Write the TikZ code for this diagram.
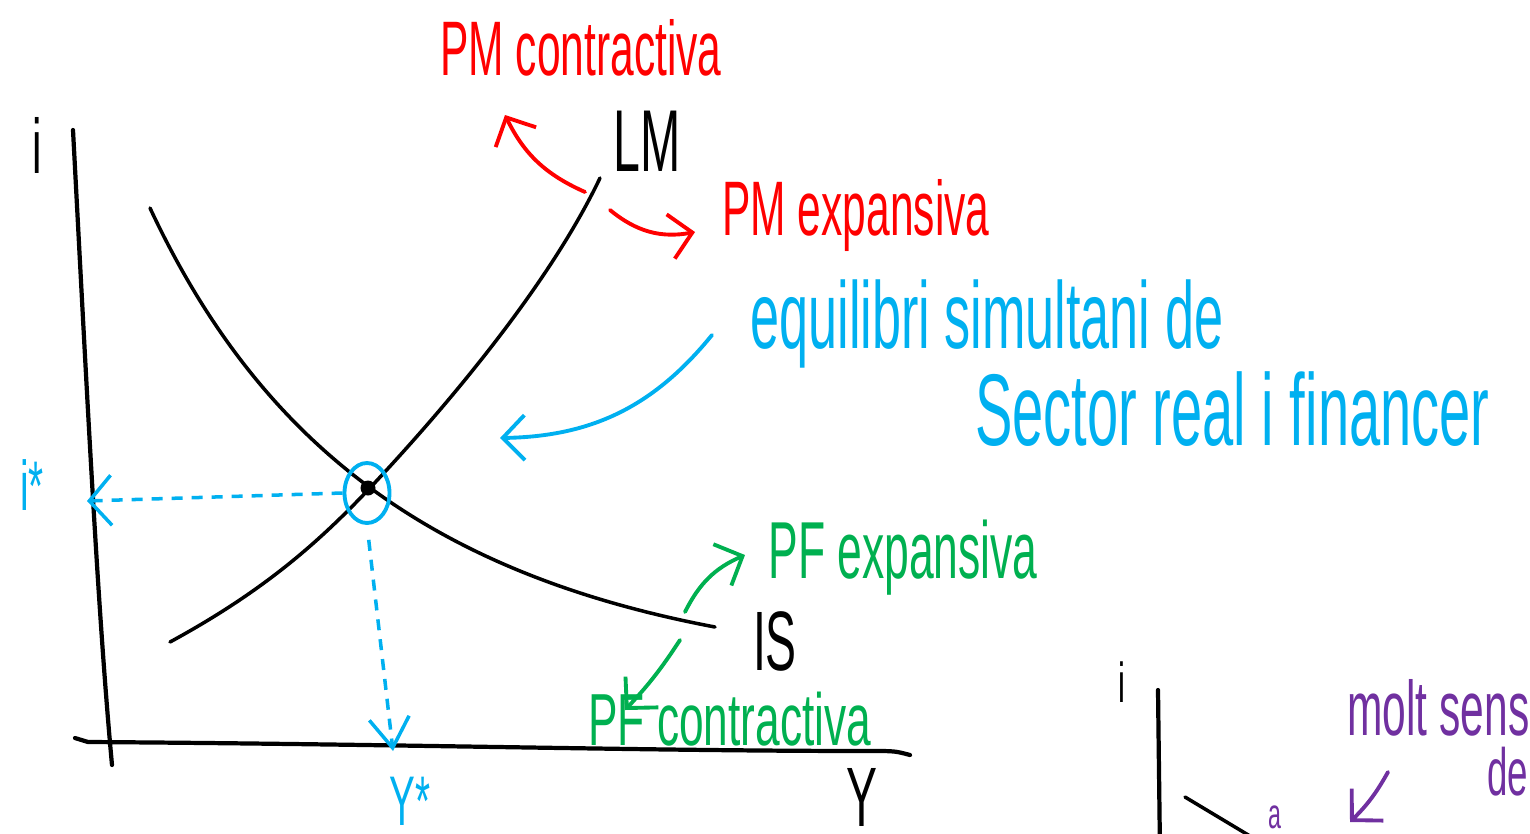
\documentclass[tikz,border=0pt]{standalone}
\usepackage{fontspec}
\setmainfont{Liberation Sans}
\usetikzlibrary{arrows.meta,shapes.geometric}
\definecolor{vermell}{RGB}{255,0,0}
\definecolor{blau}{RGB}{0,176,240}
\definecolor{verd}{RGB}{0,176,80}
\definecolor{lila}{RGB}{112,48,160}
\newcommand{\mida}[1]{\fontsize{#1}{#1}\selectfont}
\tikzset{
  corba/.style={line width=1pt, line cap=round},
  eix/.style={line width=1.2pt, line cap=round},
  fletxa/.style={line width=1.1pt, line cap=round, -{Straight Barb[length=2.2mm, width=4.5mm]}},
  guia/.style={blau, line width=1pt, dash pattern=on 1.1mm off 0.9mm},
  retol/.style={inner sep=0pt, xscale=0.55},
}

\begin{document}
\begin{tikzpicture}
        \useasboundingbox (0,0) rectangle (15.3,8.33);
        \clip (0,0) rectangle (15.3,8.33);

        % Eixos
        \draw[eix] (0.73,7.03) .. controls (0.88,4.2) and (0.98,2.2) .. (1.12,0.68);
        \draw[eix] (0.75,0.95) -- (0.88,0.91) .. controls (4,0.89) and (6.5,0.82) .. (8.7,0.82) .. controls (8.95,0.82) .. (9.1,0.78);
        \node[retol, font=\mida{22}] (ieix) at (0.37,6.88) {i};
        \node[retol, font=\mida{24}] (yeix) at (8.62,0.36) {Y};

        % Corbes IS i LM
        \draw[corba] (1.50,6.25) .. controls (2.6,3.9) and (4.3,2.6) .. (7.15,2.06);
        \draw[corba] (1.70,1.91) .. controls (2.6,2.4) and (3.15,2.87) .. (3.68,3.43)
                     .. controls (4.5,4.3) and (5.5,5.5) .. (6.00,6.55);
        \node[retol, font=\mida{25}] (lm) at (6.47,6.92) {LM};
        \node[retol, font=\mida{24}] (is) at (7.75,1.92) {IS};

        % Equilibri
        \coordinate (eq) at (3.68,3.45);
        \fill (eq) circle (0.075);
        \node[draw=blau, line width=1.1pt, ellipse, minimum width=0.45cm, minimum height=0.6cm, inner sep=0pt] (cercle) at (3.67,3.40) {};
        \coordinate (ieq) at (0.87,3.32);
        \coordinate (yeq) at (3.93,0.82);
        \draw[guia, -{Straight Barb[length=2.2mm, width=5mm]}] (cercle.west) -- (ieq);
        \draw[guia, -{Straight Barb[length=3mm, width=4mm]}, shorten <=1.5mm] (cercle.south) -- (yeq);
        \node[retol, blau, font=\mida{20}] (iest) at (0.32,3.48) {i*};
        \node[retol, blau, font=\mida{20}] (yest) at (4.10,0.32) {Y*};

        % Politica monetaria
        \node[retol, vermell, font=\mida{22}, anchor=base west] (pmc) at (4.40,7.58) {PM contractiva};
        \node[retol, vermell, font=\mida{22}, anchor=base west] (pme) at (7.22,5.98) {PM expansiva};
        \coordinate (lma) at (5.85,6.41);
        \coordinate (lmb) at (6.10,6.23);
        \coordinate (pmca) at (5.05,7.18);
        \coordinate (pmea) at (6.95,6.01);
        \draw[fletxa, vermell] (lma) to[bend left=20] (pmca);
        \draw[fletxa, vermell] (lmb) to[bend right=25] (pmea);

        % Text equilibri
        \node[retol, blau, font=\mida{27}, anchor=base west] (eqa) at (7.50,4.85) {equilibri simultani de};
        \node[retol, blau, font=\mida{29}, anchor=base west] (eqb) at (9.75,3.88) {Sector real i financer};
        \coordinate (eqfa) at (7.12,4.98);
        \coordinate (eqfb) at (5.00,3.95);
        \draw[fletxa, blau] (eqfa) to[bend left=25] (eqfb);

        % Politica fiscal
        \node[retol, verd, font=\mida{23}, anchor=base west] (pfe) at (7.68,2.55) {PF expansiva};
        \node[retol, verd, font=\mida{21}, anchor=base west, xscale=1.09] (pfc) at (5.88,0.88) {PF contractiva};
        \coordinate (isa) at (6.85,2.21);
        \coordinate (isb) at (6.80,1.93);
        \coordinate (pfea) at (7.45,2.78);
        \coordinate (pfca) at (6.25,1.23);
        \draw[fletxa, verd] (isa) to[bend left=20] (pfea);
        \draw[fletxa, verd] (isb) to[bend left=5] (pfca);

        % Segon grafic (tallat)
        \node[retol, font=\mida{16}] (ib) at (11.22,1.51) {i};
        \draw[eix] (11.58,1.43) -- (11.60,-0.2);
        \draw[corba] (11.85,0.36) -- (12.70,-0.15);
        \node[retol, lila, font=\mida{12}] (la) at (12.75,0.16) {a};
        \node[retol, lila, font=\mida{22}, anchor=base west] (molt) at (13.47,0.98) {molt sensible};
        \node[retol, lila, font=\mida{19}, anchor=base west] (de) at (14.87,0.38) {de};
        \coordinate (lfa) at (13.88,0.61);
        \coordinate (lfb) at (13.50,0.11);
        \draw[fletxa, lila] (lfa) to[bend left=8] (lfb);
\end{tikzpicture}
\end{document}
